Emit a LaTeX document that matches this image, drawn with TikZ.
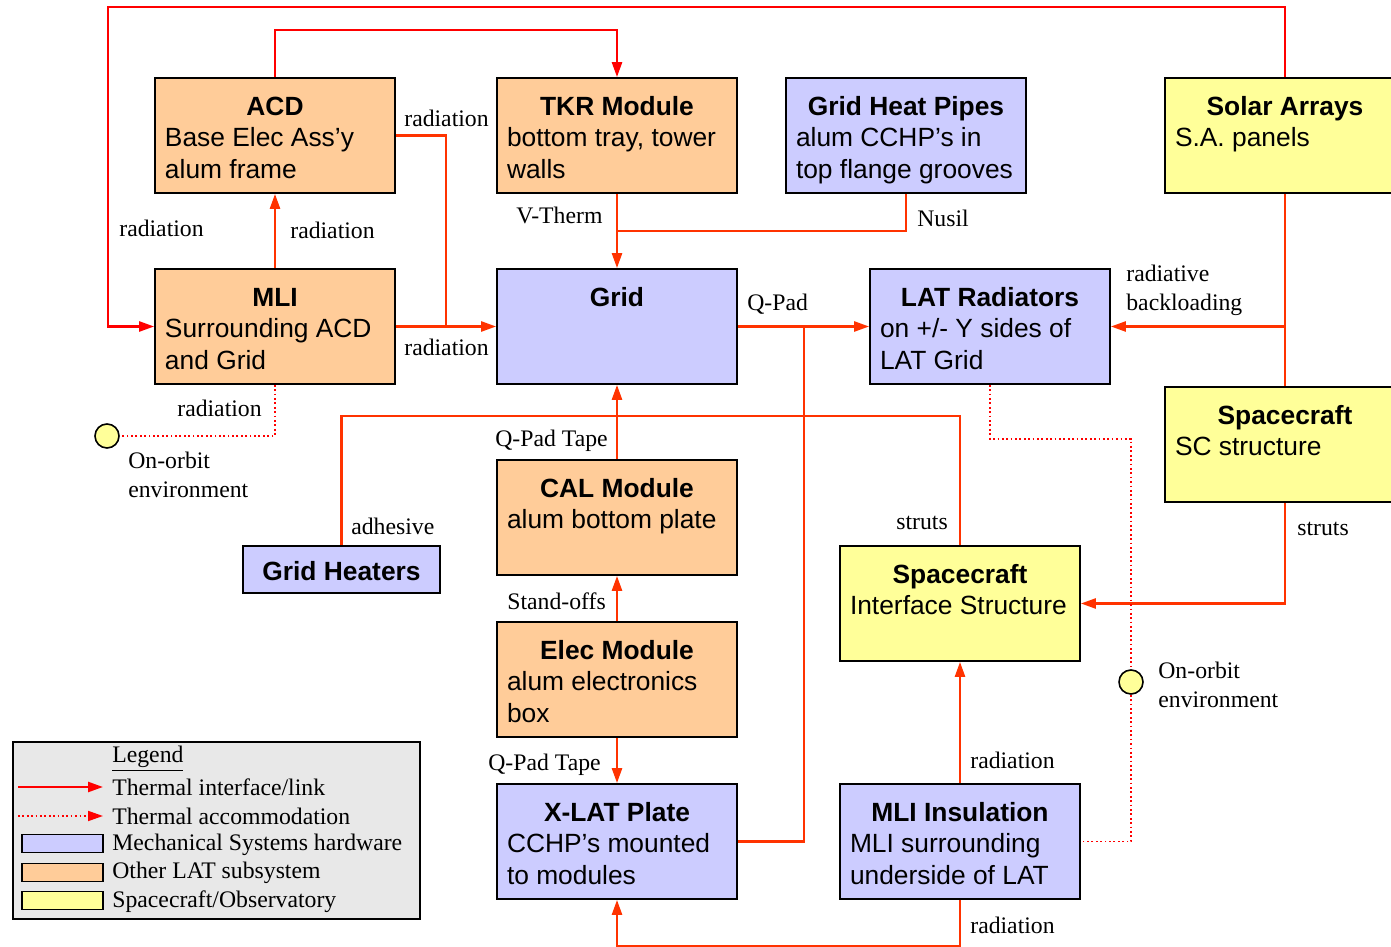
\documentclass[tikz,border=0pt]{standalone}
\usepackage{fontspec}
\setmainfont{Liberation Serif}
\setsansfont{Liberation Sans}
\usetikzlibrary{arrows.meta}
\definecolor{mechblue}{RGB}{204,204,255}
\definecolor{latorange}{RGB}{255,204,153}
\definecolor{scyellow}{RGB}{255,255,153}
\definecolor{linkred}{RGB}{255,0,0}
\definecolor{linkorange}{RGB}{255,51,0}
\definecolor{legendgray}{RGB}{232,232,232}
\newcommand{\boxtext}[2]{\parbox[c][19.4mm][t]{44mm}{\centering\rule{0pt}{16pt}\textbf{#1}\par\raggedright #2}}
\begin{document}
\begin{tikzpicture}[x=0.2mm, y=-0.2mm, every node/.style={font=\fontsize{13.5}{16.4}\selectfont}]
  \tikzstyle{subsys}=[draw, line width=1pt, inner xsep=2mm, inner ysep=1.8mm, minimum width=48mm, minimum height=23mm, font=\sffamily\fontsize{15}{18}\selectfont]
  \tikzstyle{thermline}=[draw=linkorange, line width=1.4pt]
  \tikzstyle{thermlink}=[thermline, -{Triangle[length=3mm,width=2mm]}]
  \tikzstyle{thermacc}=[draw=linkred, line width=1pt, dash pattern=on 1pt off 1.5pt]
  \tikzstyle{orbit}=[circle, draw, line width=0.9pt, fill=scyellow, minimum size=4.8mm, inner sep=0pt]
  \tikzstyle{lbl}=[anchor=west, inner sep=0pt, align=left]
  \tikzstyle{swatch}=[draw, line width=0.9pt, minimum width=16.2mm, minimum height=3.6mm, inner sep=0pt]
  \useasboundingbox (0,0) rectangle (1391,947);
  \clip (0,0) rectangle (1391,947);
  \node[subsys,fill=latorange] (acd) at (275,135.5) {\boxtext{ACD}{Base Elec Ass’y\\alum frame}};
  \node[subsys,fill=latorange] (tkr) at (617,135.5) {\boxtext{TKR Module}{bottom tray, tower\\walls}};
  \node[subsys,fill=mechblue] (heatpipes) at (906,135.5) {\boxtext{Grid Heat Pipes}{alum CCHP’s in\\top flange grooves}};
  \node[subsys,fill=scyellow] (solar) at (1285,135.5) {\boxtext{Solar Arrays}{S.A. panels}};
  \node[subsys,fill=latorange] (mli) at (275,326.5) {\boxtext{MLI}{Surrounding ACD\\and Grid}};
  \node[subsys,fill=mechblue] (grid) at (617,326.5) {\boxtext{Grid}{}};
  \node[subsys,fill=mechblue] (radiators) at (990,326.5) {\boxtext{LAT Radiators}{on +/- Y sides of\\LAT Grid}};
  \node[subsys,fill=scyellow] (sc) at (1285,444.5) {\boxtext{Spacecraft}{SC structure}};
  \node[subsys,fill=latorange] (cal) at (617,517.5) {\boxtext{CAL Module}{alum bottom plate}};
  \node[subsys,fill=scyellow] (scis) at (960,603.5) {\boxtext{Spacecraft}{Interface Structure}};
  \node[subsys,fill=latorange] (elec) at (617,679.5) {\boxtext{Elec Module}{alum electronics\\box}};
  \node[subsys,fill=mechblue] (xlat) at (617,841.5) {\boxtext{X-LAT Plate}{CCHP’s mounted\\to modules}};
  \node[subsys,fill=mechblue] (mliins) at (960,841.5) {\boxtext{MLI Insulation}{MLI surrounding\\underside of LAT}};
  \node[draw, line width=1pt, fill=mechblue, minimum width=39.4mm, minimum height=9.4mm, text height=4.5mm, text depth=0mm, font=\sffamily\bfseries\fontsize{15}{18}\selectfont] (heaters) at (341.5,569.5) {Grid Heaters};
  \node[orbit] (orbitl) at (107,436) {};
  \node[orbit] (orbitr) at (1131,682) {};
  \coordinate (loop) at (108,7);
  \coordinate (radj) at (446,326.5);
  \coordinate (vtj) at (617,231);
  \coordinate (qpj) at (804,326.5);
  \draw[thermlink,draw=linkred] (solar.north) |- (loop) |- (mli.west);
  \draw[thermlink,draw=linkred] (acd.north) -- ++(0,-47) -| (tkr.north);
  \draw[thermline] (acd.east) -| (radj);
  \draw[thermlink] (mli.east) -- (grid.west);
  \draw[thermlink] (mli.north) -- (acd.south);
  \draw[thermlink] (tkr.south) -- (grid.north);
  \draw[thermline] (heatpipes.south) |- (vtj);
  \draw[thermlink] (grid.east) -- (radiators.west);
  \draw[thermline] (xlat.east) -| (qpj);
  \draw[thermline] (solar.south) -- (sc.north);
  \draw[thermlink] (solar.south |- radiators.east) -- (radiators.east);
  \draw[thermlink] (sc.south) |- (scis.east);
  \draw[thermline] (scis.north) -- ++(0,-129) -| (heaters.north);
  \draw[thermlink] (cal.north) -- (grid.south);
  \draw[thermlink] (elec.north) -- (cal.south);
  \draw[thermlink] (elec.south) -- (xlat.north);
  \draw[thermlink] (mliins.north) -- (scis.south);
  \draw[thermlink] (mliins.south) -- ++(0,46) -| (xlat.south);
  \draw[thermacc] (mli.south) |- (orbitl.east);
  \draw[thermacc] (radiators.south) -- ++(0,54) -| (orbitr.north);
  \draw[thermacc] (orbitr.south) |- (mliins.east);
  \node[lbl] (radacd) at (404,118) {radiation};
  \node[lbl] (radloop) at (119,228) {radiation};
  \node[lbl] (radmli) at (290,230) {radiation};
  \node[lbl] (vtherm) at (516,215) {V-Therm};
  \node[lbl] (nusil) at (917,218) {Nusil};
  \node[lbl] (qpad) at (747,304) {Q-Pad};
  \node[lbl] (backload) at (1126,290) {radiative\\backloading};
  \node[lbl] (radgrid) at (404,347) {radiation};
  \node[lbl] (radorbit) at (177,408) {radiation};
  \node[lbl] (orbittxtl) at (128,475) {On-orbit\\environment};
  \node[lbl] (qptcal) at (495,441) {Q-Pad Tape};
  \node[lbl] (adhesive) at (351,526) {adhesive};
  \node[lbl] (strutsl) at (896,523) {struts};
  \node[lbl] (strutsr) at (1297,529) {struts};
  \node[lbl] (standoffs) at (507,601) {Stand-offs};
  \node[lbl] (orbittxtr) at (1158,684.5) {On-orbit\\environment};
  \node[lbl] (qptxlat) at (488,765) {Q-Pad Tape};
  \node[lbl] (radins) at (970,760) {radiation};
  \node[lbl] (radbot) at (970,925) {radiation};
  \node[draw, line width=0.9pt, fill=legendgray, minimum width=81.4mm, minimum height=35.4mm, inner sep=0pt] (legend) at (216.5,830.5) {};
  \node[lbl] (leghead) at (112,759) {\underline{Legend}};
  \node[lbl] (legk1) at (112,787) {Thermal interface/link};
  \node[lbl] (legk2) at (112,816) {Thermal accommodation};
  \node[lbl] (legk3) at (112,845) {Mechanical Systems hardware};
  \node[lbl] (legk4) at (112,873) {Other LAT subsystem};
  \node[lbl] (legk5) at (112,902) {Spacecraft/Observatory};
  \coordinate (lk1a) at (18,787);
  \coordinate (lk1b) at (103,787);
  \coordinate (lk2a) at (18,816);
  \coordinate (lk2b) at (103,816);
  \draw[thermlink,draw=linkred] (lk1a) -- (lk1b);
  \draw[thermacc,-{Triangle[length=3mm,width=2mm]}] (lk2a) -- (lk2b);
  \node[swatch,fill=mechblue] (sw1) at (62.5,843.5) {};
  \node[swatch,fill=latorange] (sw2) at (62.5,872.5) {};
  \node[swatch,fill=scyellow] (sw3) at (62.5,900.5) {};
\end{tikzpicture}
\end{document}
